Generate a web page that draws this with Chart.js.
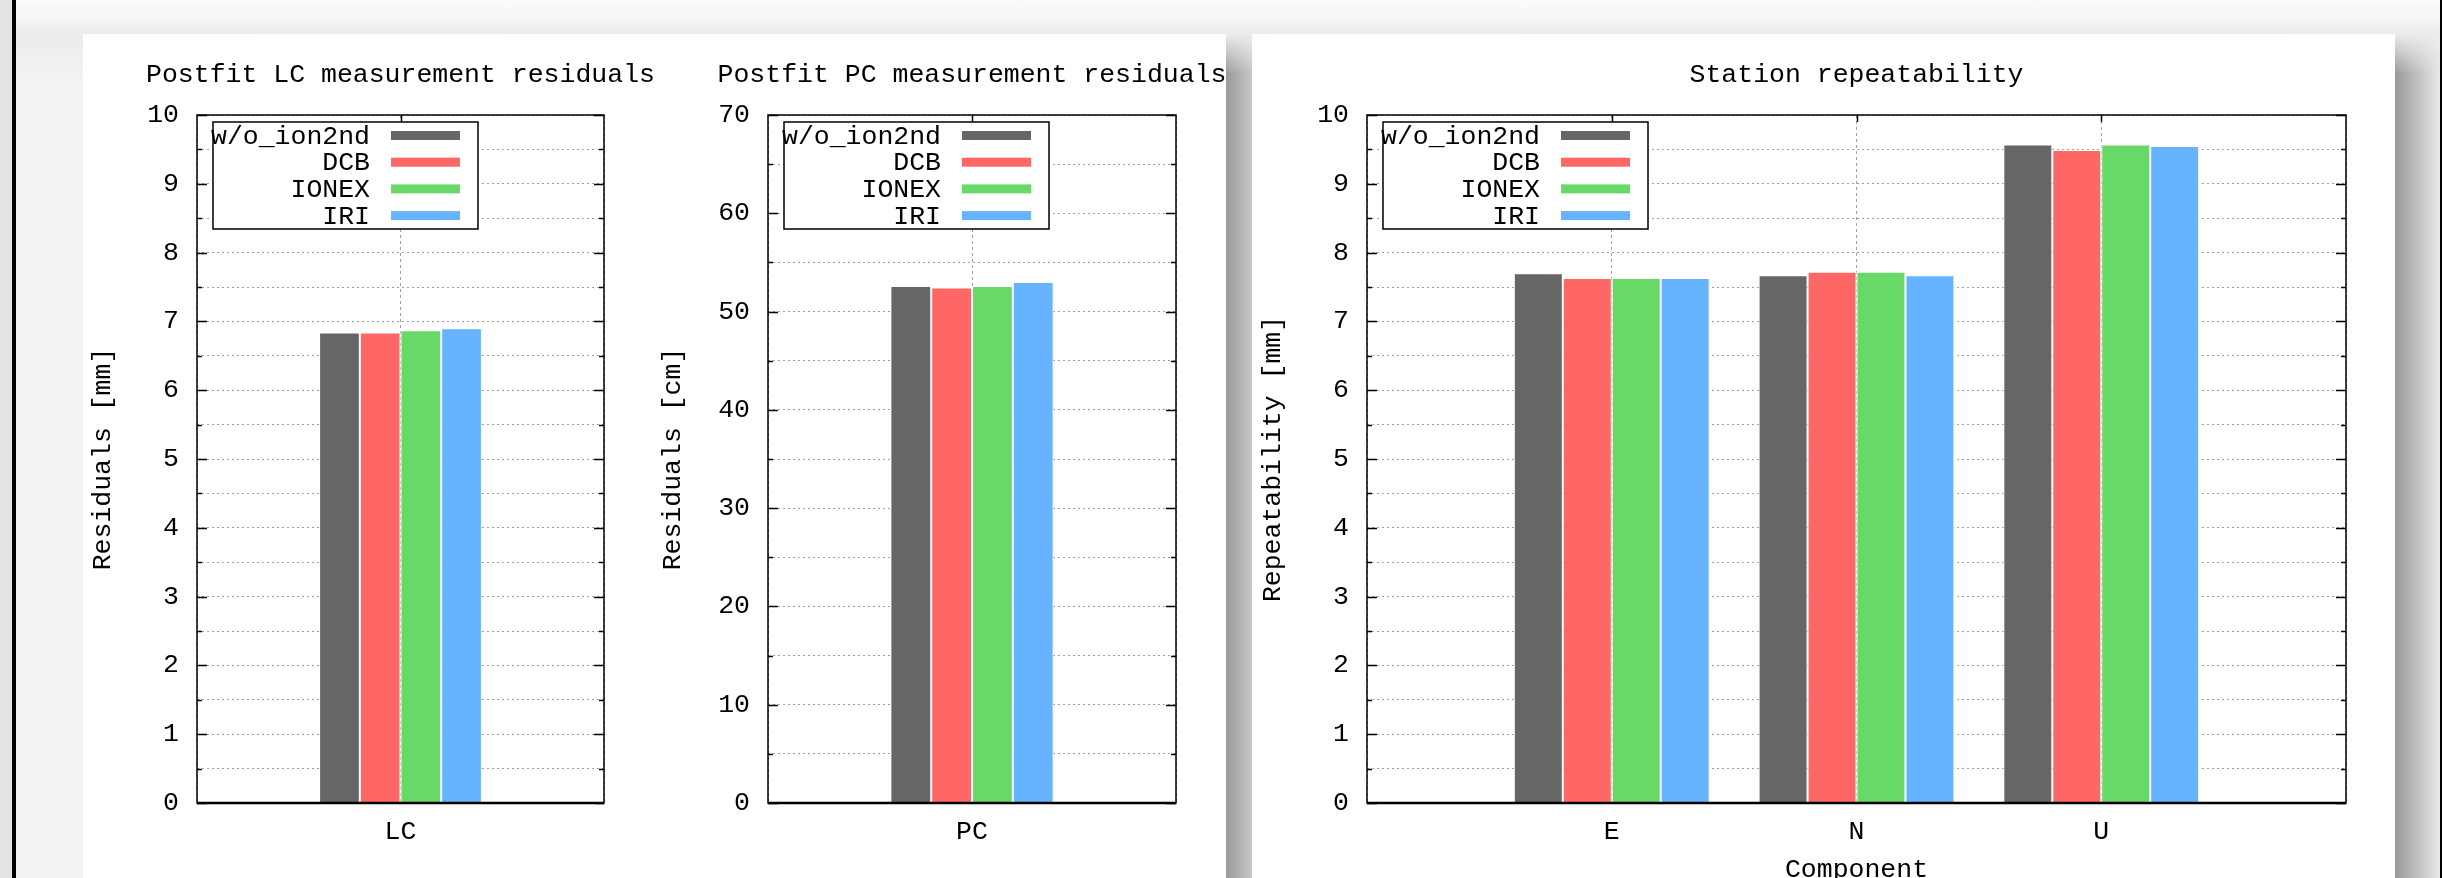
<!DOCTYPE html>
<html>
<head>
<meta charset="utf-8">
<title>Residuals and repeatability</title>
<script src="https://cdn.jsdelivr.net/npm/chart.js@4.4.1/dist/chart.umd.min.js"></script>
<style>
  html, body { margin: 0; padding: 0; width: 2442px; height: 878px; overflow: hidden; }
  body { position: relative; background: linear-gradient(#fbfbfb 0px, #f6f6f6 18px, #ebebeb 34px, #f3f3f3 80px); }
  #edgeL { position: absolute; left: 0; top: 0; width: 12px; height: 878px; background: #e4e4e4; }
  #barL { position: absolute; left: 12px; top: 0; width: 4px; height: 878px; background: #000; }
  #barR { position: absolute; left: 2440px; top: 0; width: 2px; height: 878px; background: #000; }
  .card { position: absolute; top: 34px; height: 900px; background: #fff; overflow: hidden; }
  #card1 { left: 83px; width: 1143px; }
  #card2 { left: 1252px; width: 1143px; }
  .shade { position: absolute; top: 34px; height: 844px; }
  #shade1 { left: 1226px; width: 26px;
    background: linear-gradient(to bottom, #ececec 0px, rgba(236,236,236,0) 40px),
                linear-gradient(to right, #9a9a9a, #c6c6c6); }
  #shade2 { left: 2395px; width: 45px;
    background: linear-gradient(to bottom, #ececec 0px, rgba(236,236,236,0) 40px),
                linear-gradient(to right, #999999, #e8e8e8); }
  canvas { position: absolute; top: 0; }
</style>
</head>
<body>
<div id="edgeL"></div>
<div id="barL"></div>
<div id="barR"></div>
<div id="shade1" class="shade"></div>
<div id="shade2" class="shade"></div>
<div id="card1" class="card">
  <canvas id="lcChart" width="635" height="900" style="left:0px"></canvas>
  <canvas id="pcChart" width="664" height="900" style="left:557px"></canvas>
</div>
<div id="card2" class="card">
  <canvas id="repChart" width="1209" height="900" style="left:0px"></canvas>
</div>
<script>
// series shared by the three plots
const seriesNames = ['w/o_ion2nd', 'DCB', 'IONEX', 'IRI'];
const seriesColors = ['#666666', '#ff6666', '#66d966', '#66b3ff'];

// Postfit LC measurement residuals [mm], one value per series
const lcCategories = ['LC'];
const lcValues = [6.84, 6.84, 6.87, 6.90];
const lcTickLabels = [0, 1, 2, 3, 4, 5, 6, 7, 8, 9, 10];

// Postfit PC measurement residuals [cm], one value per series
const pcCategories = ['PC'];
const pcValues = [52.6, 52.45, 52.6, 53.0];
const pcTickLabels = [0, 10, 20, 30, 40, 50, 60, 70];

// Station repeatability [mm] per component
const compCategories = ['E', 'N', 'U'];
const repWoIon2nd = [7.70, 7.67, 9.57];
const repDcb = [7.63, 7.72, 9.49];
const repIonex = [7.63, 7.72, 9.57];
const repIri = [7.63, 7.67, 9.55];
const repTickLabels = [0, 1, 2, 3, 4, 5, 6, 7, 8, 9, 10];

const FAMILY = "'Liberation Mono', 'DejaVu Sans Mono', monospace";
const FONT = { family: FAMILY, size: 26.5, weight: 'normal' };
const GRID = '#a0a0a0';

// gnuplot leaves one empty slot each side of the categories
function padLabels(arr) { return [''].concat(arr, ['']); }
function padValues(arr) { return [null].concat(arr, [null]); }

// box round the plot, with inward ticks
const framePlugin = {
  id: 'gnuFrame',
  afterDatasetsDraw(chart) {
    const ctx = chart.ctx;
    const a = chart.chartArea;
    const ys = chart.scales.y;
    const xs = chart.scales.x;
    ctx.save();
    ctx.setLineDash([]);
    ctx.strokeStyle = '#000';
    ctx.lineWidth = 1.5;
    ys.ticks.forEach(function (t, i) {
      const py = Math.round(ys.getPixelForTick(i)) + 0.5;
      const len = t.label !== '' ? 10 : 5;
      ctx.beginPath();
      ctx.moveTo(a.left, py); ctx.lineTo(a.left + len, py);
      ctx.moveTo(a.right, py); ctx.lineTo(a.right - len, py);
      ctx.stroke();
    });
    xs.ticks.forEach(function (t, i) {
      if (t.label === '') return;
      const px = Math.round(xs.getPixelForTick(i)) + 0.5;
      ctx.beginPath();
      ctx.moveTo(px, a.top); ctx.lineTo(px, a.top + 7);
      ctx.stroke();
    });
    ctx.strokeRect(a.left, a.top, a.right - a.left, a.bottom - a.top);
    ctx.lineWidth = 2.5;
    ctx.beginPath();
    ctx.moveTo(a.left, a.bottom); ctx.lineTo(a.right, a.bottom);
    ctx.stroke();
    ctx.restore();
  }
};

// key box in the top left corner: text right aligned, sample on the right
const keyPlugin = {
  id: 'gnuKey',
  afterDraw(chart) {
    const ctx = chart.ctx;
    const a = chart.chartArea;
    const x0 = a.left + 16, y0 = a.top + 7, w = 265, h = 107;
    ctx.save();
    ctx.fillStyle = '#fff';
    ctx.fillRect(x0, y0, w, h);
    ctx.lineWidth = 1.5;
    ctx.strokeStyle = '#000';
    ctx.strokeRect(x0, y0, w, h);
    ctx.font = FONT.size + 'px ' + FAMILY;
    ctx.textAlign = 'right';
    ctx.textBaseline = 'middle';
    chart.data.datasets.forEach(function (ds, i) {
      const cy = y0 + 13.5 + i * 26.7;
      ctx.fillStyle = '#000';
      ctx.fillText(ds.label, x0 + 157, cy + 1);
      ctx.fillStyle = ds.backgroundColor;
      ctx.fillRect(x0 + 178, cy - 4.5, 69, 9);
    });
    ctx.restore();
  }
};

function makeDatasets(valuesBySeries) {
  return seriesNames.map(function (name, i) {
    return {
      label: name,
      data: padValues(valuesBySeries[i]),
      backgroundColor: seriesColors[i],
      borderColor: '#ffffff',
      borderWidth: 1,
      categoryPercentage: 0.8,
      barPercentage: 1.0
    };
  });
}

function buildOptions(o) {
  return {
    responsive: false,
    animation: false,
    layout: { padding: { left: 0, top: 0, right: 0, bottom: 31 } },
    plugins: {
      legend: { display: false },
      tooltip: { enabled: false },
      title: {
        display: true, text: o.title, color: '#000', font: FONT,
        padding: { top: 25.1, bottom: 24.1 }
      }
    },
    scales: {
      x: {
        type: 'category',
        offset: false,
        grid: { offset: false, color: GRID, lineWidth: 1, drawTicks: false },
        border: { display: false, dash: [3, 3] },
        ticks: { color: '#000', font: FONT, padding: 13.1, autoSkip: false, maxRotation: 0 },
        title: {
          display: !!o.xTitle, text: o.xTitle || '', color: '#000', font: FONT,
          padding: { top: 0, bottom: 17.1 }
        },
        afterFit: function (s) { s.height = 100; }
      },
      y: {
        position: 'left',
        min: 0,
        max: o.yMax,
        grid: { color: GRID, lineWidth: 1, drawTicks: false },
        border: { display: false, dash: [2, 3] },
        ticks: {
          stepSize: o.step, autoSkip: false, color: '#000', font: FONT, padding: 18,
          callback: function (v) { return o.tickLabels.indexOf(v) >= 0 ? String(v) : ''; }
        },
        title: {
          display: true, text: o.yTitle, color: '#000', font: FONT,
          padding: { top: o.yTitlePad, bottom: 0 }
        },
        afterFit: function (s) { s.width = o.side; }
      },
      // empty right axis so the title centres over the plot
      yRight: {
        position: 'right',
        display: true,
        grid: { display: false, drawTicks: false },
        border: { display: false },
        ticks: { display: false },
        afterFit: function (s) { s.width = o.side; }
      }
    }
  };
}

new Chart(document.getElementById('lcChart'), {
  type: 'bar',
  data: {
    labels: padLabels(lcCategories),
    datasets: makeDatasets(lcValues.map(function (v) { return [v]; }))
  },
  options: buildOptions({
    title: 'Postfit LC measurement residuals', yTitle: 'Residuals [mm]',
    yMax: 10, step: 0.5, tickLabels: lcTickLabels, side: 114, yTitlePad: 4.1
  }),
  plugins: [framePlugin, keyPlugin]
});

new Chart(document.getElementById('pcChart'), {
  type: 'bar',
  data: {
    labels: padLabels(pcCategories),
    datasets: makeDatasets(pcValues.map(function (v) { return [v]; }))
  },
  options: buildOptions({
    title: 'Postfit PC measurement residuals', yTitle: 'Residuals [cm]',
    yMax: 70, step: 5, tickLabels: pcTickLabels, side: 128, yTitlePad: 17.1
  }),
  plugins: [framePlugin, keyPlugin]
});

new Chart(document.getElementById('repChart'), {
  type: 'bar',
  data: {
    labels: padLabels(compCategories),
    datasets: makeDatasets([repWoIon2nd, repDcb, repIonex, repIri])
  },
  options: buildOptions({
    title: 'Station repeatability', yTitle: 'Repeatability [mm]', xTitle: 'Component',
    yMax: 10, step: 0.5, tickLabels: repTickLabels, side: 115, yTitlePad: 5.1
  }),
  plugins: [framePlugin, keyPlugin]
});
</script>
</body>
</html>
